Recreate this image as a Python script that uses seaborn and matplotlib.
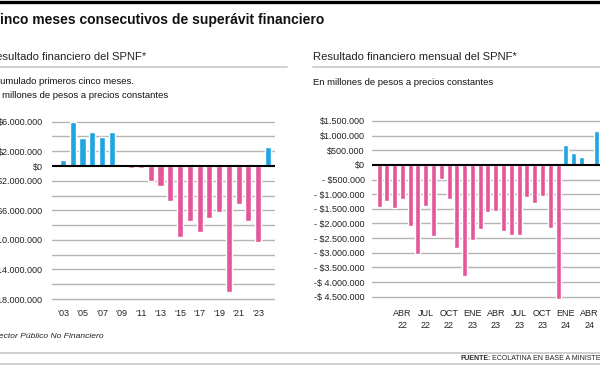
import matplotlib
matplotlib.use("Agg")
import matplotlib.pyplot as plt
import seaborn as sns
import pandas as pd
from matplotlib.lines import Line2D

# datos (millones de pesos a precios constantes)
anios = list(range(2003, 2025))
acumulado = [800000, 6000000, 3750000, 4550000, 3970000, 4550000, 0,
             -300000, -300000, -2000000, -2700000, -4700000, -9650000,
             -7450000, -8900000, -7100000, -6200000, -17000000, -5100000,
             -7500000, -10300000, 2600000]

meses = ([f"{m} 22" for m in ["ENE", "FEB", "MAR", "ABR", "MAY", "JUN", "JUL", "AGO", "SEP", "OCT", "NOV", "DIC"]]
         + [f"{m} 23" for m in ["ENE", "FEB", "MAR", "ABR", "MAY", "JUN", "JUL", "AGO", "SEP", "OCT", "NOV", "DIC"]]
         + [f"{m} 24" for m in ["ENE", "FEB", "MAR", "ABR", "MAY"]])
mensual = [-1440000, -1240000, -1470000, -1180000, -2070000, -3030000,
           -1390000, -2430000, -480000, -1180000, -2840000, -3800000,
           -2570000, -2180000, -1620000, -1570000, -2260000, -2400000,
           -2400000, -1080000, -1300000, -1050000, -2150000, -4580000,
           680000, 400000, 270000, 0, 1170000]

ticks_izq = [6e6, 4e6, 2e6, 0, -2e6, -4e6, -6e6, -8e6, -10e6, -12e6, -14e6, -16e6, -18e6]
etiquetas_izq = ["$6.000.000", "", "$2.000.000", "$0", "-$2.000.000", "", "-$6.000.000", "",
                 "-$10.000.000", "", "-$14.000.000", "", "-$18.000.000"]
ticks_der = [1.5e6, 1e6, 0.5e6, 0, -0.5e6, -1e6, -1.5e6, -2e6, -2.5e6, -3e6, -3.5e6, -4e6, -4.5e6]
etiquetas_der = ["$1.500.000", "$1.000.000", "$500.000", "$0", "- $500.000", "- $1.000.000",
                 "- $1.500.000", "- $2.000.000", "- $2.500.000", "- $3.000.000",
                 "- $3.500.000", "-$ 4.000.000", "-$ 4.500.000"]

AZUL = "#1ea5e2"
ROSA = "#e4559a"
GRIS = "#b4b4b4"

sns.set_style("white")
plt.rcParams['font.family'] = ['Liberation Sans', 'DejaVu Sans']

W, H = 600, 365
fig = plt.figure(figsize=(6, 3.65), dpi=100)


def fx(px):
    return px / W


def fy(py):
    return 1 - py / H


def linea(x0, x1, y, color, lw):
    fig.add_artist(Line2D([fx(x0), fx(x1)], [fy(y), fy(y)], color=color, lw=lw,
                          transform=fig.transFigure))


# ejes en pixeles: (izq, arriba, der, abajo)
def ejes(x0, y0, x1, y1):
    return fig.add_axes([fx(x0), fy(y1), (x1 - x0) / W, (y1 - y0) / H])


ax1 = ejes(51.7, 118.0, 275.0, 302.7)
ax2 = ejes(371.7, 116.6, 612.5, 301.1)

df1 = pd.DataFrame({"anio": [str(a) for a in anios], "valor": acumulado})
df1["signo"] = ["pos" if v >= 0 else "neg" for v in acumulado]
df2 = pd.DataFrame({"mes": meses, "valor": mensual})
df2["signo"] = ["pos" if v >= 0 else "neg" for v in mensual]

for ax, df, xcol, ancho in [(ax1, df1, "anio", 0.62), (ax2, df2, "mes", 0.64)]:
    sns.barplot(data=df, x=xcol, y="valor", hue="signo", palette={"pos": AZUL, "neg": ROSA},
                dodge=False, legend=False, width=ancho, saturation=1, ax=ax, zorder=3)
    for s in ax.spines.values():
        s.set_visible(False)
    ax.set_xlabel("")
    ax.set_ylabel("")
    ax.set_facecolor("none")
    ax.tick_params(length=0)
    ax.axhline(0, color="black", lw=1.5, zorder=4)

# panel izquierdo
ax1.set_xlim(-1.16, 21.74)
ax1.set_ylim(-18.5e6, 6.5e6)
ax1.set_yticks(ticks_izq)
ax1.set_yticklabels(etiquetas_izq, fontsize=6.5, color="#222222")
for t in ticks_izq:
    if t != 0:
        ax1.axhline(t, color=GRIS, lw=1.0, zorder=1)
ax1.set_xticks(range(0, 21, 2))
ax1.set_xticklabels([f"\u2018{str(a)[2:]}" for a in anios[0:21:2]], fontsize=6.5, color="#222222")
ax1.tick_params(axis="y", pad=6.5)
ax1.tick_params(axis="x", pad=4.5)

# panel derecho
ax2.set_xlim(-0.94, 30.0)
ax2.set_ylim(-4.65e6, 1.65e6)
ax2.set_yticks(ticks_der)
ax2.set_yticklabels(etiquetas_der, fontsize=6.5, color="#222222")
for t in ticks_der:
    if t != 0:
        ax2.axhline(t, color=GRIS, lw=1.0, zorder=1)
pos_der = list(range(3, 28, 3))
ax2.set_xticks(pos_der)
ax2.set_xticklabels([meses[i].replace(" ", "\n") for i in pos_der], fontsize=6.5,
                    color="#222222", linespacing=1.3)
ax2.tick_params(axis="y", pad=5)
ax2.tick_params(axis="x", pad=6)

# textos y filetes
linea(0, 600, 1.5, "black", 2.4)
fig.text(fx(-10), fy(20), "Cinco meses consecutivos de superávit financiero",
         fontsize=10, fontweight="bold", va="center", color="#111111")

fig.text(fx(-12), fy(57), "Resultado financiero del SPNF*", fontsize=8.1, va="center", color="#222222")
fig.text(fx(313), fy(57), "Resultado financiero mensual del SPNF*", fontsize=8.1, va="center",
         color="#222222")
linea(0, 287, 66.7, "#c8c8c8", 1.2)
linea(313, 600, 66.7, "#c8c8c8", 1.2)

fig.text(fx(-11), fy(81), "Acumulado primeros cinco meses.", fontsize=6.8, va="center", color="#111111")
fig.text(fx(-12), fy(95), "En millones de pesos a precios constantes", fontsize=6.8, va="center",
         color="#111111")
fig.text(fx(313), fy(82.5), "En millones de pesos a precios constantes", fontsize=6.8, va="center",
         color="#111111")

fig.text(fx(-10), fy(337), "*Sector Público No Financiero", fontsize=6.1, style="italic",
         va="center", color="#222222")
linea(0, 600, 352.7, "#c8c8c8", 1.2)
linea(0, 600, 364, "#c8c8c8", 1.2)

# fuente: la parte en negrita y el resto a continuacion
fuente = fig.text(fx(460), fy(358.5), "FUENTE:", fontsize=5, fontweight="bold", va="center")
renderer = fig.canvas.get_renderer()
bb = fuente.get_window_extent(renderer=renderer)
fig.text(bb.x1 / (W) + fx(1.5), fy(358.5), "ECOLATINA EN BASE A MINISTERIO DE ECONOMÍA",
         fontsize=5, va="center")

fig.savefig("out.png", dpi=100)
